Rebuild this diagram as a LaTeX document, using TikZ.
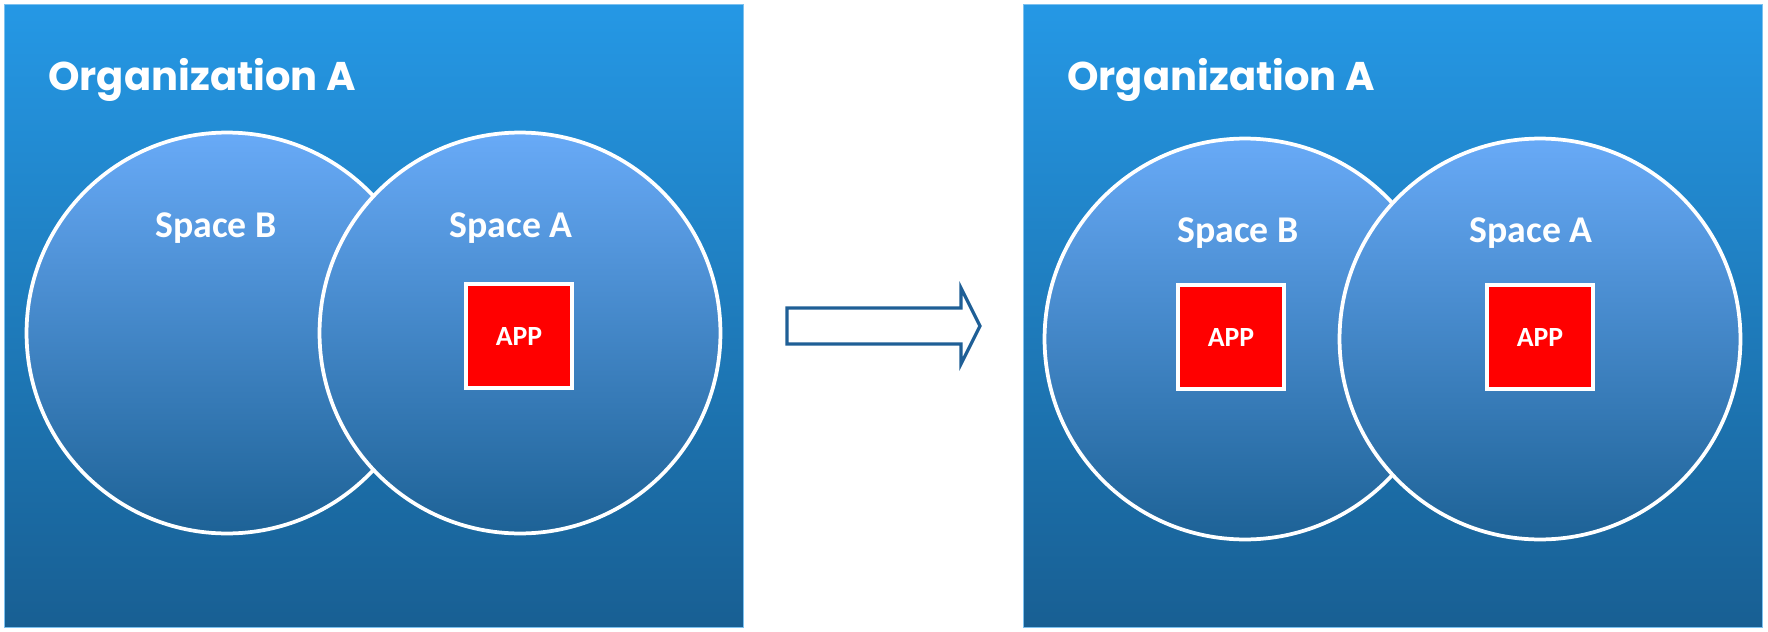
\documentclass[tikz,border=0pt]{standalone}
\usepackage{fontspec}
\setmainfont{Carlito}
\newfontfamily\orgfont{Poppins}
\usepackage{tikz}
\usetikzlibrary{positioning,calc}
\definecolor{orgtop}{HTML}{2598E5}
\definecolor{orgbottom}{HTML}{185F93}
\definecolor{spacetop}{HTML}{68AAF7}
\definecolor{spacebottom}{HTML}{1D6296}
\definecolor{arrowline}{HTML}{1F5F96}
\definecolor{appred}{HTML}{FF0000}
\tikzset{
    org/.style = {
        draw=orgtop!60!white,
        line width=0.6pt,
        shape=rectangle,
        inner sep=0pt,
        minimum width=14.79cm,
        minimum height=12.47cm,
        top color=orgtop,
        bottom color=orgbottom
    },
    space/.style = {
        draw=white,
        shape=circle,
        inner sep=0pt,
        minimum size=8.02cm,
        line width=0.075cm,
        top color=spacetop,
        bottom color=spacebottom
    },
    app/.style = {
        draw=white,
        fill=appred,
        shape=rectangle,
        inner sep=0pt,
        minimum width=2.12cm,
        minimum height=2.08cm,
        line width=0.08cm,
        text=white,
        font=\fontsize{15.8}{18}\selectfont\bfseries
    },
    orglabel/.style = {
        anchor=base west,
        inner sep=0pt,
        text=white,
        font=\orgfont\fontsize{22.8}{27}\selectfont\bfseries
    },
    spacelabel/.style = {
        anchor=base,
        inner sep=0pt,
        text=white,
        font=\fontsize{21.5}{25}\selectfont\bfseries
    },
    move/.style = {
        draw=arrowline,
        fill=white,
        line width=0.065cm,
        line join=miter
    },
}

\begin{document}
\begin{tikzpicture}[x=0.02cm,y=-0.02cm]
            \useasboundingbox (0,0) rectangle (1768,632);

            % before
            \node[org] (orgl) at (374,316) {};
            \node[space] (sbl) at (227,333) {};
            \node[space] (sal) at (520,333) {};
            \node[orglabel] (orgtl) at (48,90) {Organization A};
            \node[spacelabel] (sbtl) at (216,237) {Space B};
            \node[spacelabel] (satl) at (511,237) {Space A};
            \node[app] (appl) at (519,336) {APP};

            % after
            \node[org] (orgr) at (1393,316) {};
            \node[space] (sbr) at (1245,339) {};
            \node[space] (sar) at (1540,339) {};
            \node[orglabel] (orgtr) at (1067,90) {Organization A};
            \node[spacelabel] (sbtr) at (1238,242) {Space B};
            \node[spacelabel] (satr) at (1531,242) {Space A};
            \node[app] (appbr) at (1231,337) {APP};
            \node[app] (appar) at (1540,337) {APP};

            % block arrow between the two
            \coordinate (tail) at (787,326);
            \path[move] (tail) ++(0,-18) -- ++(174,0) -- ++(0,-20)
                -- ++(19,38) -- ++(-19,38) -- ++(0,-20) -- ++(-174,0) -- cycle;
        \end{tikzpicture}
\end{document}
